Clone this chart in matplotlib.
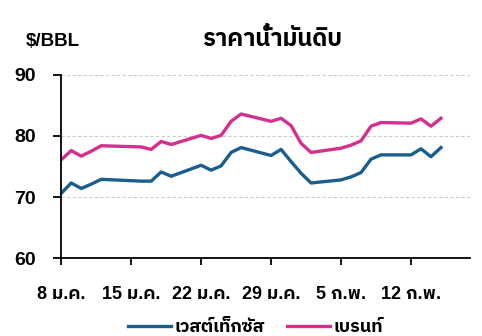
import matplotlib
matplotlib.use('Agg')
import numpy as np
import pandas as pd
import matplotlib.pyplot as plt
import matplotlib.dates as mdates

# trading days (2024), WTI and Brent, $/bbl
dates = pd.to_datetime([
    '2024-01-08', '2024-01-09', '2024-01-10', '2024-01-11', '2024-01-12',
    '2024-01-16', '2024-01-17', '2024-01-18', '2024-01-19',
    '2024-01-22', '2024-01-23', '2024-01-24', '2024-01-25', '2024-01-26',
    '2024-01-29', '2024-01-30', '2024-01-31', '2024-02-01', '2024-02-02',
    '2024-02-05', '2024-02-06', '2024-02-07', '2024-02-08', '2024-02-09',
    '2024-02-12', '2024-02-13', '2024-02-14', '2024-02-15'])
wti = [70.6, 72.3, 71.4, 72.1, 72.9,
       72.6, 72.6, 74.1, 73.4,
       75.2, 74.4, 75.1, 77.3, 78.1,
       76.8, 77.8, 75.8, 73.9, 72.3,
       72.8, 73.3, 74.0, 76.2, 76.9,
       76.9, 77.9, 76.6, 78.1]
brent = [76.1, 77.6, 76.7, 77.5, 78.4,
         78.2, 77.8, 79.1, 78.6,
         80.1, 79.6, 80.1, 82.4, 83.6,
         82.4, 82.9, 81.7, 78.8, 77.3,
         78.0, 78.5, 79.2, 81.6, 82.2,
         82.1, 82.8, 81.6, 82.9]
tick_dates = pd.to_datetime(['2024-01-08', '2024-01-15', '2024-01-22',
                             '2024-01-29', '2024-02-05', '2024-02-12'])
tick_labels = ['8 ม.ค.', '15 ม.ค.', '22 ม.ค.', '29 ม.ค.', '5 ก.พ.', '12 ก.พ.']

plt.rcParams['font.family'] = ['Liberation Sans', 'IBM Plex Sans Thai', 'DejaVu Sans']
plt.rcParams['font.weight'] = 'bold'

fig = plt.figure(figsize=(4.82, 3.36), dpi=100)
ax = fig.add_axes([0.127, 0.232, 0.848, 0.545])

ax.plot(dates, wti, color='#1b5e8e', lw=2.4, label='เวสต์เท็กซัส', solid_joinstyle='round')
ax.plot(dates, brent, color='#d52f8c', lw=2.4, label='เบรนท์', solid_joinstyle='round')

ax.set_ylim(60, 90)
ax.set_yticks([60, 70, 80, 90])
ax.set_xlim(pd.Timestamp('2024-01-08'), pd.Timestamp('2024-01-08') + pd.Timedelta(days=40.9))
ax.set_xticks(tick_dates)
ax.set_xticklabels(tick_labels)
for v in [70, 80, 90]:
    ax.axhline(v, color='#cccccc', lw=0.8, ls=(0, (3, 2)), zorder=0)

for s in ['top', 'right']:
    ax.spines[s].set_visible(False)
ax.spines['left'].set_linewidth(1.3)
ax.spines['bottom'].set_linewidth(1.3)
ax.tick_params(axis='x', length=5, width=1.3, pad=15, labelsize=13)
ax.tick_params(axis='y', length=6, width=1.3, pad=12, labelsize=14)

fig.text(0.566, 0.862, 'ราคาน้ำมันดิบ', ha='center', va='baseline', fontsize=17, weight='bold')
fig.text(0.054, 0.862, '$/BBL', ha='left', va='baseline', fontsize=13.5, weight='bold')

fig.legend(loc='center', bbox_to_anchor=(0.53, 0.025), ncol=2, frameon=False,
           fontsize=13, handlelength=2.4, handletextpad=0.2, columnspacing=1.2)

fig.savefig('out.png', dpi=100)
